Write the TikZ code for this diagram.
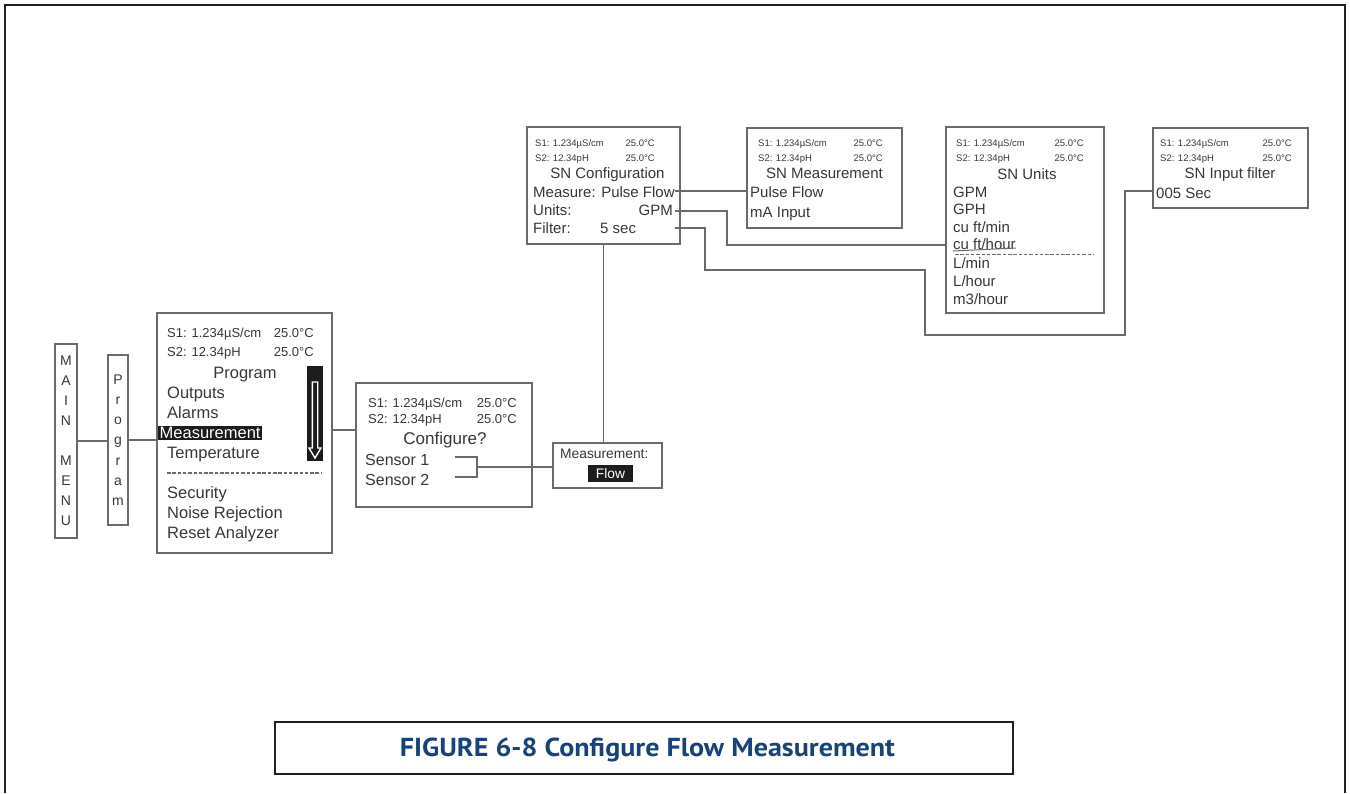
\documentclass[tikz,border=0pt]{standalone}
\usepackage{fontspec}
\setmainfont{Liberation Sans}
\newfontfamily\capfont[FakeStretch=1.08]{PT Sans}
\definecolor{boxc}{RGB}{112,104,100}
\definecolor{txtc}{RGB}{58,54,54}
\definecolor{hlc}{RGB}{30,27,27}
\definecolor{capblue}{RGB}{22,66,128}
\definecolor{framec}{RGB}{35,31,32}
\tikzset{
  scr/.style={draw=boxc, line width=1.9pt, inner sep=0pt},
  conn/.style={draw=boxc, line width=1.8pt},
  tx/.style={text=txtc, inner sep=0pt, anchor=base west},
  txe/.style={tx, anchor=base east},
  txc/.style={tx, anchor=base},
  hl/.style={fill=hlc, text=white, inner sep=0pt},
  fbig/.style={font=\fontsize{16.5}{18}\selectfont},
  fmid/.style={font=\fontsize{16}{18}\selectfont},
  fsn/.style={font=\fontsize{15}{17}\selectfont},
  fmeas/.style={font=\fontsize{13.8}{16}\selectfont},
  fsmA/.style={font=\fontsize{13}{15}\selectfont},
  fsmB/.style={font=\fontsize{9.5}{11}\selectfont},
  dashsep/.style={draw=boxc, line width=1.5pt, dash pattern=on 3.5pt off 1.8pt},
}
\begin{document}
\begin{tikzpicture}[x=1pt,y=-1pt]
\useasboundingbox (0,0) rectangle (1350,793);
% outer frame
\draw[framec, line width=2.5pt] (5,793) -- (5,5) -- (1345,5) -- (1345,793);

% MAIN MENU and Program vertical boxes
\node[scr, minimum width=22pt, minimum height=194pt, align=center, text=txtc,
      font=\fontsize{14}{20}\selectfont] (mainmenu) at (66,441) {M\\A\\I\\N\\[20pt]M\\E\\N\\U};
\node[scr, minimum width=20pt, minimum height=170pt, align=center, text=txtc,
      font=\fontsize{14}{20.2}\selectfont] (progv) at (118,440) {P\\r\\o\\g\\r\\a\\m};

% Program screen
\node[scr, minimum width=175pt, minimum height=240pt] (progscr) at (244.5,433) {};
\node[tx, fsmA] (ps1) at (167,337.5) {S1: 1.234µS/cm};
\node[txe, fsmA] (ps1t) at (314,337.5) {25.0°C};
\node[tx, fsmA] (ps2) at (167,356.5) {S2: 12.34pH};
\node[txe, fsmA] (ps2t) at (314,356.5) {25.0°C};
\node[txc, fbig] (pstitle) at (245,378) {Program};
\node[tx, fbig] (pout) at (167,398) {Outputs};
\node[tx, fbig] (palarm) at (167,418.5) {Alarms};
\node[hl, fbig, anchor=base west, inner xsep=1.5pt, inner ysep=1.5pt] (pmeas) at (158,438.5) {Measurement};
\node[tx, fbig] (ptemp) at (167,458.5) {Temperature};
\draw[dashsep] (167,473) -- (322,473);
\node[tx, fbig] (psec) at (167,498.5) {Security};
\node[tx, fbig] (pnoise) at (167,518) {Noise Rejection};
\node[tx, fbig] (preset) at (167,538.5) {Reset Analyzer};
\node[fill=hlc, minimum width=16pt, minimum height=95pt, inner sep=0pt] (sbar) at (315,413.5) {};
\draw[white, line width=1.4pt, line join=miter]
  (312.3,382) -- (317.7,382) -- (317.7,448) -- (321,448) -- (315,458) -- (309,448) -- (312.3,448) -- cycle;

% Configure screen
\node[scr, minimum width=176pt, minimum height=124pt] (config) at (444,445) {};
\node[tx, fsmA] (c1) at (368,407.5) {S1: 1.234µS/cm};
\node[txe, fsmA] (c1t) at (517,407.5) {25.0°C};
\node[tx, fsmA] (c2) at (368,423.5) {S2: 12.34pH};
\node[txe, fsmA] (c2t) at (517,423.5) {25.0°C};
\node[txc, font=\fontsize{17}{19}\selectfont] (ctitle) at (445,444) {Configure?};
\node[tx, fmid] (sens1) at (365,465.5) {Sensor 1};
\node[tx, fmid] (sens2) at (365,485.5) {Sensor 2};

% Measurement: Flow box
\node[scr, minimum width=109pt, minimum height=45pt] (meas) at (607.5,465.5) {};
\node[tx, fmeas] (mlabel) at (560,458) {Measurement:};
\node[hl, fmeas, minimum width=45pt, minimum height=17pt] (flow) at (610.5,473.5) {Flow};

% SN Configuration
\node[scr, minimum width=153pt, minimum height=117pt] (snconf) at (603.5,185.5) {};
\node[tx, fsmB] (sc1) at (535,146.5) {S1: 1.234µS/cm};
\node[txe, fsmB] (sc1t) at (655,146.5) {25.0°C};
\node[tx, fsmB] (sc2) at (535,161) {S2: 12.34pH};
\node[txe, fsmB] (sc2t) at (655,161) {25.0°C};
\node[txc, fsn] (sctitle) at (607.5,178.5) {SN Configuration};
\node[tx, fsn] (scmeas) at (533,197.5) {Measure: Pulse Flow};
\node[tx, fsn] (scunits) at (533,215.5) {Units:};
\node[txe, fsn] (scgpm) at (673,215.5) {GPM};
\node[tx, fsn] (scfilt) at (533,233) {Filter:};
\node[tx, fsn] (scsec) at (600,233) {5 sec};

% SN Measurement
\node[scr, minimum width=155pt, minimum height=100pt] (snmeas) at (824.5,178) {};
\node[tx, fsmB] (sm1) at (758,146.5) {S1: 1.234µS/cm};
\node[txe, fsmB] (sm1t) at (883,146.5) {25.0°C};
\node[tx, fsmB] (sm2) at (758,161) {S2: 12.34pH};
\node[txe, fsmB] (sm2t) at (883,161) {25.0°C};
\node[txc, fsn] (smtitle) at (824.5,178.5) {SN Measurement};
\node[tx, fsn] (smpulse) at (750,197.5) {Pulse Flow};
\node[tx, fsn] (smma) at (750,217) {mA Input};

% SN Units
\node[scr, minimum width=158pt, minimum height=186pt] (snunits) at (1025,220) {};
\node[tx, fsmB] (su1) at (956,146.5) {S1: 1.234µS/cm};
\node[txe, fsmB] (su1t) at (1084,146.5) {25.0°C};
\node[tx, fsmB] (su2) at (956,161) {S2: 12.34pH};
\node[txe, fsmB] (su2t) at (1084,161) {25.0°C};
\node[txc, fsn] (sutitle) at (1027,179.5) {SN Units};
\node[tx, fsn] (ugpm) at (953,197.5) {GPM};
\node[tx, fsn] (ugph) at (953,214.5) {GPH};
\node[tx, fsn] (ucfm) at (953,232) {cu ft/min};
\node[tx, fsn] (ucfh) at (953,249.5) {cu ft/hour};
\draw[boxc, line width=1pt] (ucfh.base west) ++(0,1.5) -- ([yshift=1.5pt]ucfh.base east);
\draw[dashsep] (955,254.5) -- (1094,254.5);
\node[tx, fsn] (ulmin) at (953,268) {L/min};
\node[tx, fsn] (ulh) at (953,286) {L/hour};
\node[tx, fsn] (um3h) at (953,304) {m3/hour};

% SN Input filter
\node[scr, minimum width=155pt, minimum height=80pt] (snfilt) at (1230.5,168) {};
\node[tx, fsmB] (sf1) at (1160,146.5) {S1: 1.234µS/cm};
\node[txe, fsmB] (sf1t) at (1292,146.5) {25.0°C};
\node[tx, fsmB] (sf2) at (1160,161) {S2: 12.34pH};
\node[txe, fsmB] (sf2t) at (1292,161) {25.0°C};
\node[txc, fsn] (sftitle) at (1230,178.5) {SN Input filter};
\node[tx, fsn] (sf005) at (1156,198) {005 Sec};

% connectors
\draw[conn] (mainmenu.east) -- (mainmenu.east -| progv.west);
\draw[conn] (progv.east) -- (progv.east -| progscr.west);
\coordinate (j1) at (344,430);
\draw[conn] (j1 -| progscr.east) -- (j1 -| config.west);
\coordinate (b1) at (455,457);
\coordinate (b2) at (455,477);
\coordinate (bm) at (477,467);
\draw[conn, line width=1.5pt] (b1) -| (bm) |- (b2);
\draw[conn] (bm) -- (bm -| meas.west);
\draw[conn] (snconf.south) -- (snconf.south |- meas.north);
\coordinate (o1) at (675,191);
\coordinate (o2) at (675,211);
\coordinate (o3) at (675,228);
\coordinate (k1) at (727,245);
\coordinate (k2) at (705,270);
\coordinate (k3) at (925,335);
\coordinate (k4) at (1125,191);
\draw[conn] (o1) -- (o1 -| snmeas.west);
\draw[conn] (o2) -| (k1) -- (k1 -| snunits.west);
\draw[conn] (o3) -| (k2) -| (k3) -| (k4) -- (k4 -| snfilt.west);

% caption
\node[draw=framec, line width=1.3pt, minimum width=738pt, minimum height=52pt, inner sep=0pt] (capbox) at (644,748) {};
\node[anchor=base, inner sep=0pt, text=capblue, font=\capfont\bfseries\fontsize{26}{28}\selectfont] (captxt) at (647.5,756.5) {FIGURE 6-8 Configure Flow Measurement};
\end{tikzpicture}
\end{document}
